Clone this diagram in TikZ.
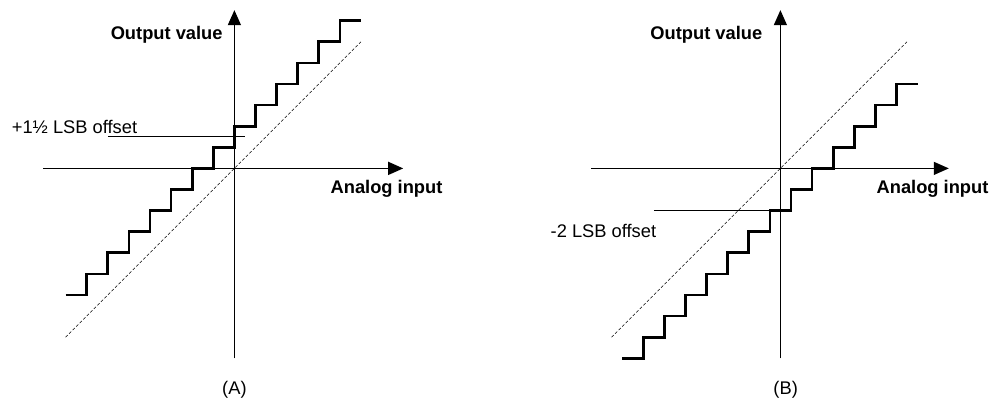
\documentclass[tikz,border=0pt]{standalone}
\usepackage{fontspec}
\setmainfont{Liberation Sans}
\usepackage{tikz}
\usetikzlibrary{arrows.meta,positioning}

\tikzset{
  axis/.style={line width=1.3pt,-{Triangle[length=15pt,width=13pt]}},
  stair/.style={line width=2.7pt,line join=miter},
  ideal/.style={line width=0.6pt,dash pattern=on 3pt off 2pt},
  offsetline/.style={line width=0.8pt},
  lbl/.style={inner sep=0pt,font=\fontsize{18.3pt}{22pt}\selectfont},
  blbl/.style={lbl,font=\fontsize{18.3pt}{22pt}\selectfont\bfseries}
}

\begin{document}
\begin{tikzpicture}
\useasboundingbox (0,0) rectangle (1003pt,403pt);

% (A) positive offset
\begin{scope}[shift={(234.4pt,234.6pt)},x=21.1pt,y=21.1pt]
\coordinate (xa0) at (-9.07,0);
\coordinate (xa1) at (8,0);
\coordinate (ya0) at (0,-9);
\coordinate (ya1) at (0,7.5);
\coordinate (da0) at (-8,-8);
\coordinate (da1) at (6,6);
\coordinate (oa0) at (-6,1.5);
\coordinate (oa1) at (0.5,1.5);
\draw[axis] (xa0) -- (xa1);
\draw[axis] (ya0) -- (ya1);
\draw[ideal] (da0) -- (da1);
\draw[stair] (-8,-6) \foreach \k in {-7,...,5} { -- (\k,\k+1) -- (\k,\k+2) } -- (6,7);
\draw[offsetline] (oa0) -- (oa1);
\node[blbl,anchor=east] (outa) at (-0.55,6.34) {Output value};
\node[blbl,anchor=west] (ina) at (4.55,-0.98) {Analog input};
\node[lbl,anchor=east] (offa) at (-4.6,1.97) {+1½ LSB offset};
\node[lbl] (capa) at (0,-10.5) {(A)};
\end{scope}

% (B) negative offset
\begin{scope}[shift={(780.4pt,234.6pt)},x=21.1pt,y=21.1pt]
\coordinate (xb0) at (-8.96,0);
\coordinate (xb1) at (7.98,0);
\coordinate (yb0) at (0,-9);
\coordinate (yb1) at (0,7.5);
\coordinate (db0) at (-8,-8);
\coordinate (db1) at (6,6);
\coordinate (ob0) at (-6,-2);
\coordinate (ob1) at (0.5,-2);
\draw[axis] (xb0) -- (xb1);
\draw[axis] (yb0) -- (yb1);
\draw[ideal] (db0) -- (db1);
\draw[stair] (-7.5,-9) \foreach \k in {-6,...,6} { -- (\k-0.5,\k-3) -- (\k-0.5,\k-2) } -- (6.5,4);
\draw[offsetline] (ob0) -- (ob1);
\node[blbl,anchor=east] (outb) at (-0.85,6.34) {Output value};
\node[blbl,anchor=west] (inb) at (4.55,-0.98) {Analog input};
\node[lbl,anchor=east] (offb) at (-5.88,-2.97) {-2 LSB offset};
\node[lbl] (capb) at (0.25,-10.5) {(B)};
\end{scope}

\end{tikzpicture}
\end{document}
